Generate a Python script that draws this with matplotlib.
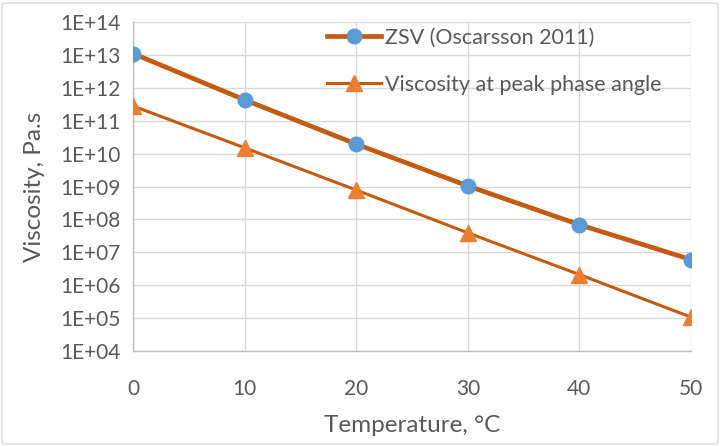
import math
import matplotlib
matplotlib.use("Agg")
import matplotlib.pyplot as plt
from matplotlib.patches import FancyBboxPatch
from matplotlib.ticker import FixedLocator, FuncFormatter, NullLocator

temperature = [0, 10, 20, 30, 40, 50]
zsv = [1.1e13, 4.3e11, 1.95e10, 1.04e9, 6.9e7, 6.0e6]
visc_peak = [2.8e11, 1.5e10, 7.8e8, 3.9e7, 2.1e6, 1.07e5]
x_ticks = [0, 10, 20, 30, 40, 50]
y_ticks = [10.0 ** e for e in range(4, 15)]

plt.rcParams['font.family'] = ['Lato', 'DejaVu Sans']
text_color = '#595959'
grid_color = '#d9d9d9'

fig = plt.figure(figsize=(7.2, 4.46), dpi=100)
ax = fig.add_axes([133/720, 1-351/446, (691-133)/720, (351-22)/446])

border = FancyBboxPatch((2/720, 2/446), 716/720, 441/446, boxstyle="round,pad=0,rounding_size=0.005",
                        transform=fig.transFigure, facecolor='white', edgecolor='#d9d9d9', lw=1.0, zorder=-10)
fig.patches.append(border)
ax.set_facecolor('none')

ax.plot(temperature, zsv, color='#C55A11', lw=3.4, marker='o', markersize=10.5,
        markerfacecolor='#5B9BD5', markeredgecolor='#5B9BD5', label='ZSV (Oscarsson 2011)', zorder=3)
ax.plot(temperature, visc_peak, color='#C55A11', lw=2.2, marker='^', markersize=11,
        markerfacecolor='#ED7D31', markeredgecolor='#ED7D31', label='Viscosity at peak phase angle', zorder=3)

ax.set_yscale('log')
ax.set_ylim(1e4, 1e14)
ax.set_xlim(0, 50)
ax.yaxis.set_major_locator(FixedLocator(y_ticks))
ax.yaxis.set_minor_locator(NullLocator())
ax.yaxis.set_major_formatter(FuncFormatter(lambda v, p: '1E+%02d' % round(math.log10(v))))
ax.set_xticks(x_ticks)

ax.grid(True, color=grid_color, lw=1.0)
ax.set_axisbelow(True)
for s in ['top', 'right']:
    ax.spines[s].set_visible(False)
for s in ['left', 'bottom']:
    ax.spines[s].set_color('#bfbfbf')
    ax.spines[s].set_linewidth(1.0)
ax.tick_params(axis='both', length=0, colors=text_color, labelsize=15)
ax.tick_params(axis='x', pad=20)
ax.tick_params(axis='y', pad=9)

ax.set_xlabel('Temperature, °C', color=text_color, fontsize=17.5, labelpad=12)
ax.set_ylabel('Viscosity, Pa.s', color=text_color, fontsize=17.5, labelpad=11)

leg = ax.legend(loc='upper left', bbox_to_anchor=(327/720, 1-28/446), bbox_transform=fig.transFigure,
                frameon=False, fontsize=15.5, labelcolor=text_color, handlelength=2.5,
                handletextpad=0.2, labelspacing=1.25, borderaxespad=0, borderpad=0)

fig.savefig('out.png', dpi=100)
